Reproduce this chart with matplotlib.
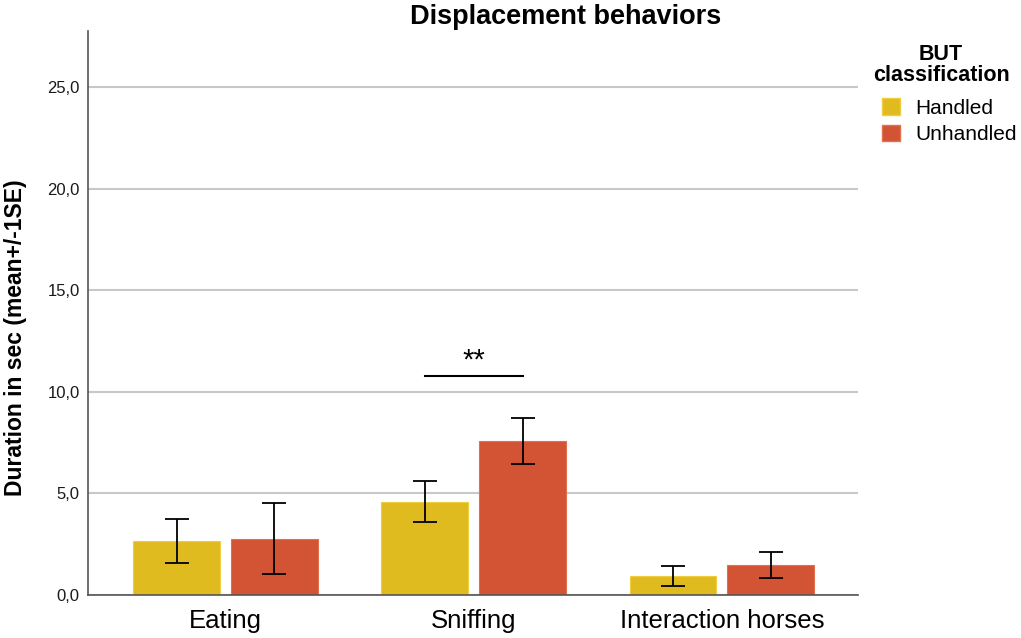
import numpy as np
import matplotlib
matplotlib.use('Agg')
import matplotlib.pyplot as plt
import matplotlib.ticker as mtick
from matplotlib.patches import Patch

plt.rcParams['font.family'] = ['Liberation Sans', 'DejaVu Sans']

categories = ['Eating', 'Sniffing', 'Interaction horses']
groups = ['Handled', 'Unhandled']
handled_mean = [2.66, 4.59, 0.94]
handled_se = [1.08, 1.01, 0.49]
unhandled_mean = [2.77, 7.58, 1.48]
unhandled_se = [1.76, 1.11, 0.63]
colors = ['#E0BB20', '#D35434']
edge_colors = ['#F0CC40', '#E07050']

fig = plt.figure(figsize=(10.21, 6.38), dpi=100)
ax = fig.add_axes([0.0862, 0.0674, 0.7541, 0.884])

x = np.arange(len(categories))
w = 0.35
off = 0.197
for vals, errs, c, ec, dx in [(handled_mean, handled_se, colors[0], edge_colors[0], -off),
                              (unhandled_mean, unhandled_se, colors[1], edge_colors[1], off)]:
    ax.bar(x + dx, vals, width=w, color=c, edgecolor=ec, linewidth=0.8, zorder=3)
    ax.errorbar(x + dx, vals, yerr=errs, fmt='none', ecolor='black',
                elinewidth=1.3, capsize=8.6, capthick=1.3, zorder=4)

# significance marker for sniffing
ax.plot([x[1] - off, x[1] + off], [10.78, 10.78], color='black', lw=1.5, zorder=4)
ax.text(x[1], 11.55, '**', ha='center', va='center', fontsize=21)

ax.set_xlim(-0.554, 2.548)
ax.set_ylim(0, 27.75)
ax.set_yticks([0, 5, 10, 15, 20, 25])
ax.yaxis.set_major_formatter(mtick.FuncFormatter(lambda v, p: f'{v:.1f}'.replace('.', ',')))
ax.set_xticks(x, categories)
ax.tick_params(axis='x', length=0, labelsize=18.5, pad=10, colors='black')
ax.tick_params(axis='y', length=0, labelsize=12, pad=6, colors='#1a1a1a')
ax.grid(axis='y', color='#C8C8C8', lw=1.5, zorder=0)
for s in ['top', 'right']:
    ax.spines[s].set_visible(False)
for s in ['left', 'bottom']:
    ax.spines[s].set_color('#555555')
    ax.spines[s].set_linewidth(1.2)
    ax.spines[s].set_zorder(5)

ax.set_ylabel('Duration in sec (mean+/-1SE)', fontsize=16.5, fontweight='bold')
ax.yaxis.set_label_coords(-0.079, 0.456)
fig.text(566 / 1021, 1 - 17 / 638, 'Displacement behaviors', ha='center', va='center',
         fontsize=19.5, fontweight='bold')

# legend
fig.text(941 / 1021, 1 - 65 / 638, 'BUT\nclassification', ha='center', va='center',
         multialignment='center', fontsize=15.5, fontweight='bold', linespacing=1.0)
handles = [Patch(facecolor=colors[i], edgecolor=edge_colors[i], label=groups[i]) for i in range(2)]
fig.legend(handles=handles, loc='upper left', bbox_to_anchor=(882 / 1021, 1 - 98 / 638),
           frameon=False, fontsize=15, borderpad=0, borderaxespad=0,
           handlelength=0.85, handleheight=0.85, handletextpad=0.75, labelspacing=0.35)

fig.savefig('out.png', dpi=100)
